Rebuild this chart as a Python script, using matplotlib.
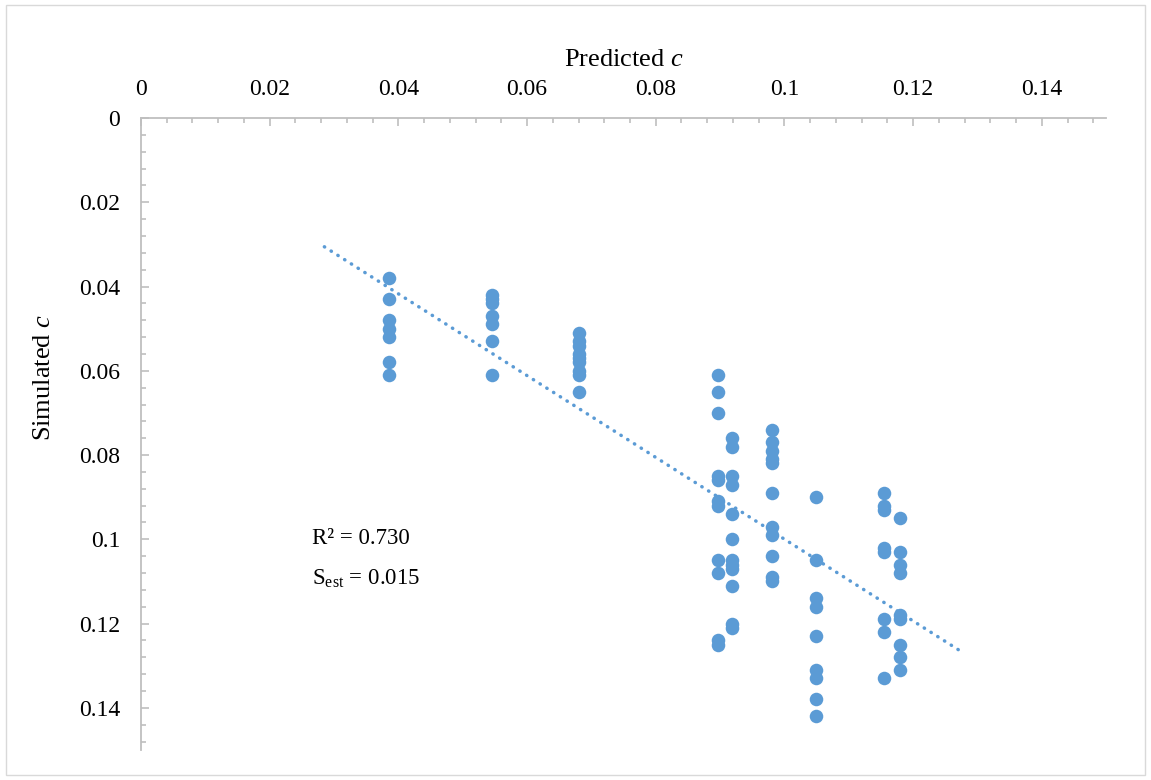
import numpy as np
import matplotlib.pyplot as plt
from matplotlib.ticker import MultipleLocator
from matplotlib.patches import Rectangle

plt.rcParams['font.family'] = ['Liberation Serif', 'DejaVu Serif']
plt.rcParams['mathtext.fontset'] = 'custom'
plt.rcParams['mathtext.rm'] = 'Liberation Serif'
plt.rcParams['mathtext.it'] = 'Liberation Serif:italic'

# Predicted c for each group of runs, and the simulated c values in that group
pred_levels = [0.0385, 0.0545, 0.068, 0.0897, 0.0918, 0.0981, 0.1049, 0.1155, 0.118]
sim_groups = [
    [0.038, 0.043, 0.048, 0.050, 0.052, 0.058, 0.061],
    [0.042, 0.043, 0.044, 0.047, 0.049, 0.053, 0.061],
    [0.051, 0.053, 0.054, 0.056, 0.057, 0.058, 0.060, 0.061, 0.065],
    [0.061, 0.065, 0.070, 0.085, 0.086, 0.091, 0.092, 0.105, 0.108, 0.124, 0.125],
    [0.076, 0.078, 0.085, 0.087, 0.094, 0.100, 0.105, 0.106, 0.107, 0.111, 0.120, 0.121],
    [0.074, 0.077, 0.079, 0.081, 0.082, 0.089, 0.097, 0.099, 0.104, 0.109, 0.110],
    [0.090, 0.105, 0.114, 0.116, 0.123, 0.131, 0.133, 0.138, 0.142],
    [0.089, 0.092, 0.093, 0.102, 0.103, 0.119, 0.122, 0.133],
    [0.095, 0.103, 0.106, 0.108, 0.118, 0.119, 0.125, 0.128, 0.131],
]
r2_text = 'R² = 0.730'
sest_text = r'S$_{\rm est}$ = 0.015'

x = np.concatenate([[p] * len(g) for p, g in zip(pred_levels, sim_groups)])
y = np.concatenate(sim_groups)

blue = '#5B9BD5'
grey = '#BFBFBF'

fig = plt.figure(figsize=(11.51, 7.80), dpi=100)
ax = fig.add_axes([0.1225, 0.0385, 0.8385, 0.8102])

ax.scatter(x, y, s=95, color=blue, zorder=3, linewidths=0)

# linear trendline, extended 0.01 either side
k, b = np.polyfit(x, y, 1)
xt = np.array([x.min() - 0.01, x.max() + 0.01])
ax.plot(xt, k * xt + b, color=blue, lw=2.5, linestyle=(0, (0.1, 2.2)),
        dash_capstyle='round', zorder=2)

ax.set_xlim(0, 0.15)
ax.set_ylim(0.15, 0)
ax.xaxis.set_major_locator(MultipleLocator(0.02))
ax.xaxis.set_minor_locator(MultipleLocator(0.004))
ax.yaxis.set_major_locator(MultipleLocator(0.02))
ax.yaxis.set_minor_locator(MultipleLocator(0.004))
ax.xaxis.set_major_formatter(lambda v, p: f'{v:.2f}'.rstrip('0').rstrip('.') if v else '0')
ax.yaxis.set_major_formatter(lambda v, p: f'{v:.2f}'.rstrip('0').rstrip('.') if v else '0')

ax.xaxis.tick_top()
ax.xaxis.set_label_position('top')
for s in ['right', 'bottom']:
    ax.spines[s].set_visible(False)
for s in ['top', 'left']:
    ax.spines[s].set_color(grey)
    ax.spines[s].set_linewidth(1.3)
ax.tick_params(which='both', direction='in', color=grey, width=1.2,
               labelsize=17, top=True, bottom=False, left=True, right=False)
ax.tick_params(which='major', length=5.5)
ax.tick_params(which='minor', length=3.5)
ax.tick_params(axis='x', which='major', pad=13)
ax.tick_params(axis='y', which='major', pad=15)

ax.set_xlabel('Predicted $c$', fontsize=19, labelpad=9)
ax.set_ylabel('Simulated $c$', fontsize=19)
ax.yaxis.set_label_coords(-0.089, 0.589)

ax.text(0.0266, 0.0998, r2_text, fontsize=16.5, va='center', ha='left')
ax.text(0.0266, 0.1094, sest_text, fontsize=16.5, va='center', ha='left')

fig.patches.append(Rectangle((6 / 1151, 5 / 780), 1139 / 1151, 770 / 780,
                             transform=fig.transFigure, fill=False,
                             edgecolor='#D9D9D9', lw=1))

fig.savefig('out.png', dpi=100)
